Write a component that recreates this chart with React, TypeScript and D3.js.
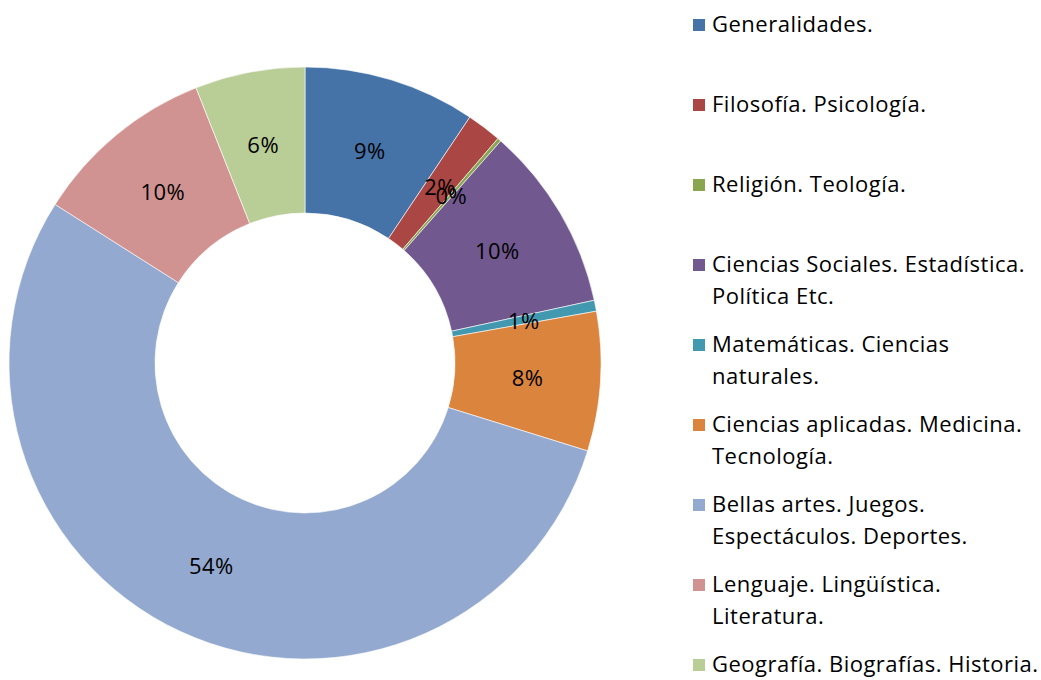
import React, { useRef, useEffect } from 'react';
import * as d3 from 'd3';

// categorías y porcentajes
const categories = [
  'Generalidades.',
  'Filosofía. Psicología.',
  'Religión. Teología.',
  'Ciencias Sociales. Estadística. Política Etc.',
  'Matemáticas. Ciencias naturales.',
  'Ciencias aplicadas. Medicina. Tecnología.',
  'Bellas artes. Juegos. Espectáculos. Deportes.',
  'Lenguaje. Lingüística. Literatura.',
  'Geografía. Biografías. Historia.',
];

const values = [9.4, 1.9, 0.2, 10.1, 0.6, 7.6, 54.2, 10.0, 6.0];

// líneas de la leyenda tal como se cortan en la imagen
const legendLines = [
  ['Generalidades.'],
  ['Filosofía. Psicología.'],
  ['Religión. Teología.'],
  ['Ciencias Sociales. Estadística.', 'Política Etc.'],
  ['Matemáticas. Ciencias', 'naturales.'],
  ['Ciencias aplicadas. Medicina.', 'Tecnología.'],
  ['Bellas artes. Juegos.', 'Espectáculos. Deportes.'],
  ['Lenguaje. Lingüística.', 'Literatura.'],
  ['Geografía. Biografías. Historia.'],
];

const colors = [
  '#4572A7',
  '#AA4643',
  '#89A54E',
  '#71588F',
  '#4198AF',
  '#DB843D',
  '#93A9CF',
  '#D19392',
  '#B9CD96',
];

const WIDTH = 1041;
const HEIGHT = 680;
const FONT = '"Open Sans", "Noto Sans", sans-serif';

export default function App() {
  const svgRef = useRef<SVGSVGElement>(null);

  useEffect(() => {
    if (!svgRef.current) return;
    const svg = d3.select(svgRef.current);
    svg.selectAll('*').remove();

    const cx = 305;
    const cy = 363;
    const outerR = 296;
    const innerR = 150;

    const data = categories.map((c, i) => ({ name: c, value: values[i], color: colors[i] }));

    const pie = d3
      .pie<{ name: string; value: number; color: string }>()
      .sort(null)
      .value((d) => d.value);

    const arcs = pie(data);

    const arc = d3
      .arc<d3.PieArcDatum<{ name: string; value: number; color: string }>>()
      .innerRadius(innerR)
      .outerRadius(outerR);

    const labelArc = d3
      .arc<d3.PieArcDatum<{ name: string; value: number; color: string }>>()
      .innerRadius((innerR + outerR) / 2)
      .outerRadius((innerR + outerR) / 2);

    const g = svg.append('g').attr('transform', `translate(${cx},${cy})`);

    g.selectAll('path.slice')
      .data(arcs)
      .enter()
      .append('path')
      .attr('class', 'slice')
      .attr('d', arc)
      .attr('fill', (d) => d.data.color)
      .attr('stroke', '#ffffff')
      .attr('stroke-width', 0.6);

    // etiquetas de porcentaje
    g.selectAll('text.pct')
      .data(arcs)
      .enter()
      .append('text')
      .attr('class', 'pct')
      .attr('transform', (d) => `translate(${labelArc.centroid(d)})`)
      .attr('text-anchor', 'middle')
      .attr('dominant-baseline', 'central')
      .style('font-family', FONT)
      .style('font-size', '22px')
      .style('letter-spacing', '0.5px')
      .style('fill', '#000')
      .text((d) => `${Math.round(d.data.value)}%`);

    // leyenda
    const legend = svg.append('g').attr('transform', 'translate(693,0)');
    const item = legend
      .selectAll('g.item')
      .data(data)
      .enter()
      .append('g')
      .attr('class', 'item')
      .attr('transform', (_, i) => `translate(0,${32 + i * 80})`);

    item
      .append('rect')
      .attr('x', 0)
      .attr('y', -13)
      .attr('width', 12)
      .attr('height', 12)
      .attr('fill', (d) => d.color);

    item.each(function (_, i) {
      const t = d3
        .select(this)
        .append('text')
        .attr('x', 19)
        .attr('y', 0)
        .style('font-family', FONT)
        .style('font-size', '22px')
        .style('letter-spacing', '0.5px')
        .style('fill', '#000');
      legendLines[i].forEach((line, j) => {
        t.append('tspan').attr('x', 19).attr('y', j * 32).text(line);
      });
    });
  }, []);

  return (
    <svg
      ref={svgRef}
      width={WIDTH}
      height={HEIGHT}
      style={{ position: 'absolute', left: 0, top: 0, background: '#fff' }}
    />
  );
}
